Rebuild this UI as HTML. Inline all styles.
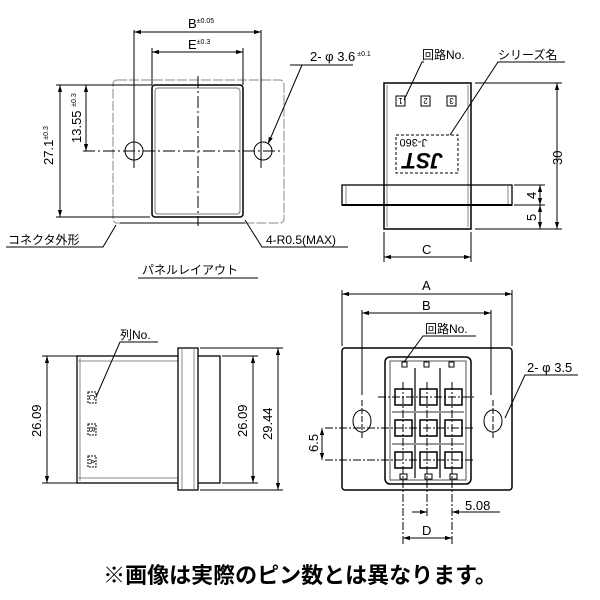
<!DOCTYPE html>
<html><head><meta charset="utf-8"><style>
body{margin:0;background:#fff}
svg{display:block;font-family:"Liberation Sans","Noto Sans CJK JP",sans-serif}
</style></head><body>
<svg width="600" height="600" viewBox="0 0 600 600" xmlns="http://www.w3.org/2000/svg">
<defs>
<marker id="a" viewBox="0 0 10 10" refX="10" refY="5" markerWidth="7" markerHeight="7" orient="auto-start-reverse"><path d="M0,2L10,5L0,8z" fill="#000"/></marker>
</defs>
<g fill="none" stroke="#000" stroke-width="1">
<rect x="113" y="80" width="171" height="143" rx="4" stroke="#888" stroke-dasharray="10,2"/>
<rect x="152" y="85" width="91" height="132" rx="3" stroke-width="1.5"/>
<rect x="155" y="88" width="85" height="126" rx="3" stroke="#777"/>
<line x1="83" y1="151" x2="280" y2="151" stroke-dasharray="12,3,2,3"/>
<line x1="198" y1="76" x2="198" y2="226" stroke-dasharray="12,3,2,3"/>
<circle cx="134" cy="151" r="9"/><circle cx="263" cy="151" r="9"/>
<line x1="134" y1="30" x2="134" y2="168"/><line x1="261" y1="30" x2="261" y2="168"/>
<line x1="134" y1="32" x2="261" y2="32" marker-start="url(#a)" marker-end="url(#a)"/>
<line x1="152" y1="48" x2="152" y2="85"/><line x1="243" y1="48" x2="243" y2="85"/>
<line x1="152" y1="52" x2="243" y2="52" marker-start="url(#a)" marker-end="url(#a)"/>
<line x1="56" y1="85" x2="152" y2="85"/><line x1="56" y1="217" x2="150" y2="217"/>
<line x1="60" y1="85" x2="60" y2="217" marker-start="url(#a)" marker-end="url(#a)"/>
<line x1="86" y1="85" x2="86" y2="151" marker-start="url(#a)" marker-end="url(#a)"/>
<line x1="120" y1="223" x2="245" y2="223"/>
<polyline points="6,247 103,247 116,225"/>
<polyline points="245,220 262,247 348,247"/>
<polyline points="290,65 353,65"/><line x1="302" y1="65" x2="268" y2="144" marker-end="url(#a)"/>
<line x1="138" y1="278" x2="258" y2="278"/>
<rect x="384" y="83" width="87" height="146" stroke-width="1.5"/>
<line x1="387" y1="85" x2="387" y2="227" stroke="#888"/><line x1="468" y1="85" x2="468" y2="227" stroke="#888"/>
<rect x="342" y="185" width="170" height="20" stroke-width="1.3"/>
<line x1="346" y1="186" x2="346" y2="204" stroke="#888"/><line x1="508" y1="186" x2="508" y2="204" stroke="#888"/>
<line x1="342" y1="205" x2="512" y2="205" stroke-width="2"/>
<rect x="396" y="96" width="9" height="10"/>
<rect x="421" y="96" width="9" height="10"/>
<rect x="447" y="96" width="9" height="10"/>
<rect x="396" y="135" width="62" height="38" stroke-dasharray="3,2"/>
<polyline points="424,62 422,62 404,100"/>
<polyline points="565,62 498,62 450,135"/>
<line x1="475" y1="83" x2="562" y2="83"/><line x1="475" y1="229" x2="562" y2="229"/>
<line x1="557" y1="83" x2="557" y2="229" marker-start="url(#a)" marker-end="url(#a)"/>
<line x1="514" y1="185" x2="545" y2="185"/><line x1="514" y1="205" x2="545" y2="205"/>
<line x1="540" y1="185" x2="540" y2="205" marker-start="url(#a)" marker-end="url(#a)"/>
<line x1="540" y1="205" x2="540" y2="229" marker-start="url(#a)" marker-end="url(#a)"/>
<line x1="384" y1="232" x2="384" y2="262"/><line x1="471" y1="232" x2="471" y2="262"/>
<line x1="384" y1="257" x2="471" y2="257" marker-start="url(#a)" marker-end="url(#a)"/>
<rect x="77" y="356" width="143" height="127" stroke-width="1.3"/>
<line x1="80" y1="358" x2="80" y2="481" stroke="#888"/>
<line x1="77" y1="361" x2="178" y2="361" stroke="#888"/><line x1="77" y1="478" x2="178" y2="478" stroke="#888"/>
<rect x="178" y="348" width="20" height="142" fill="#fff" stroke-width="1.3"/>
<line x1="182" y1="349" x2="182" y2="489" stroke="#888"/><line x1="194" y1="349" x2="194" y2="489" stroke="#888"/>
<rect x="88" y="392" width="8" height="11" stroke-dasharray="2,1"/>
<rect x="88" y="424" width="8" height="11" stroke-dasharray="2,1"/>
<rect x="88" y="456" width="8" height="11" stroke-dasharray="2,1"/>
<polyline points="158,342 120,342 96,397"/>
<line x1="42" y1="356" x2="77" y2="356"/><line x1="42" y1="483" x2="77" y2="483"/>
<line x1="47" y1="356" x2="47" y2="483" marker-start="url(#a)" marker-end="url(#a)"/>
<line x1="222" y1="356" x2="258" y2="356"/><line x1="222" y1="483" x2="258" y2="483"/>
<line x1="253" y1="356" x2="253" y2="483" marker-start="url(#a)" marker-end="url(#a)"/>
<line x1="200" y1="348" x2="283" y2="348"/><line x1="200" y1="490" x2="283" y2="490"/>
<line x1="278" y1="348" x2="278" y2="490" marker-start="url(#a)" marker-end="url(#a)"/>
<rect x="342" y="348" width="170" height="142" rx="3" stroke-width="1.5"/>
<rect x="385" y="357" width="86" height="127" rx="5" stroke-width="1.5"/>
<rect x="390" y="361" width="76" height="119" stroke="#555"/>
<line x1="415" y1="368" x2="415" y2="478" stroke="#666" stroke-width="2"/>
<line x1="440" y1="368" x2="440" y2="478" stroke="#666" stroke-width="2"/>
<line x1="392" y1="412" x2="464" y2="412" stroke="#999" stroke-width="2"/>
<line x1="392" y1="444" x2="464" y2="444" stroke="#999" stroke-width="2"/>
<g stroke-width="1.5">
<rect x="395" y="389" width="17" height="16"/><rect x="420" y="389" width="17" height="16"/><rect x="445" y="389" width="17" height="16"/>
<rect x="395" y="420" width="17" height="16"/><rect x="420" y="420" width="17" height="16"/><rect x="445" y="420" width="17" height="16"/>
<rect x="395" y="452" width="17" height="16"/><rect x="420" y="452" width="17" height="16"/><rect x="445" y="452" width="17" height="16"/>
</g>
<rect x="400" y="474" width="7" height="5"/><rect x="425" y="474" width="7" height="5"/><rect x="450" y="474" width="7" height="5"/>
<rect x="402" y="362" width="5" height="5"/><rect x="424" y="362" width="5" height="5"/><rect x="449" y="362" width="5" height="5"/>
<g stroke-dasharray="8,2,2,2">
<line x1="378" y1="397" x2="475" y2="397"/><line x1="325" y1="428" x2="475" y2="428"/><line x1="325" y1="460" x2="475" y2="460"/>
<line x1="403" y1="382" x2="403" y2="545"/><line x1="427" y1="382" x2="427" y2="518"/><line x1="452" y1="382" x2="452" y2="545"/>
</g>
<ellipse cx="362" cy="421" rx="9" ry="11"/><ellipse cx="493" cy="421" rx="9" ry="11"/>
<line x1="362" y1="400" x2="362" y2="440" stroke-dasharray="6,2"/><line x1="493" y1="400" x2="493" y2="440" stroke-dasharray="6,2"/>
<line x1="342" y1="290" x2="342" y2="346"/><line x1="512" y1="290" x2="512" y2="346"/>
<line x1="342" y1="294" x2="512" y2="294" marker-start="url(#a)" marker-end="url(#a)"/>
<line x1="362" y1="310" x2="362" y2="395"/><line x1="491" y1="310" x2="491" y2="395"/>
<line x1="362" y1="313" x2="491" y2="313" marker-start="url(#a)" marker-end="url(#a)"/>
<polyline points="476,336 423,336 404,362"/>
<polyline points="578,375 525,375 505,418"/>
<line x1="322" y1="428" x2="322" y2="460" marker-start="url(#a)" marker-end="url(#a)"/>
<line x1="412" y1="512" x2="427" y2="512" marker-end="url(#a)"/><line x1="500" y1="512" x2="452" y2="512" marker-end="url(#a)"/>
<line x1="403" y1="538" x2="452" y2="538" marker-start="url(#a)" marker-end="url(#a)"/>
</g>
<text x="407" y="167" font-size="22" font-weight="bold" font-style="italic" transform="rotate(180 425 160)">JST</text>
<text x="427" y="147" font-size="11" transform="rotate(180 427 143)">J-360</text>
<g font-size="13" fill="#000">
<text x="188" y="28">B<tspan font-size="7" dy="-5">±0.05</tspan></text>
<text x="188" y="49">E<tspan font-size="7" dy="-5">±0.3</tspan></text>
<text transform="translate(53 165) rotate(-90)">27.1<tspan font-size="7" dy="-5">±0.3</tspan></text>
<text transform="translate(81 143) rotate(-90)">13.55 <tspan font-size="7" dy="-5">±0.3</tspan></text>
<text x="8" y="244" font-size="12">コネクタ外形</text>
<text x="266" y="244" font-size="12">4-R0.5(MAX)</text>
<text x="142" y="274" font-size="12">パネルレイアウト</text>
<text x="310" y="61">2- φ 3.6<tspan font-size="7" dy="-5"> ±0.1</tspan></text>
<text x="422" y="59" font-size="12">回路No.</text>
<text x="498" y="59" font-size="12">シリーズ名</text>
<text transform="translate(562 165) rotate(-90)">30</text>
<text transform="translate(536 199) rotate(-90)">4</text>
<text transform="translate(536 221) rotate(-90)">5</text>
<text x="422" y="254">C</text>
<text x="120" y="339" font-size="12">列No.</text>
<text transform="translate(41 437) rotate(-90)">26.09</text>
<text transform="translate(247 437) rotate(-90)">26.09</text>
<text transform="translate(272 440) rotate(-90)">29.44</text>
<text x="422" y="290">A</text>
<text x="422" y="310">B</text>
<text x="425" y="333" font-size="12">回路No.</text>
<text x="527" y="372">2- φ 3.5</text>
<text transform="translate(318 452) rotate(-90)">6.5</text>
<text x="465" y="510">5.08</text>
<text x="422" y="535">D</text>
</g>
<g font-size="8" fill="#000" text-anchor="middle">
<text transform="translate(400.5 101) rotate(180)" dy="3">1</text>
<text transform="translate(425.5 101) rotate(180)" dy="3">2</text>
<text transform="translate(451.5 101) rotate(180)" dy="3">3</text>
<text transform="translate(92 397.5) rotate(90)" dy="3">C</text>
<text transform="translate(92 429.5) rotate(90)" dy="3">B</text>
<text transform="translate(92 461.5) rotate(90)" dy="3">A</text>
</g>
<text x="300" y="583" font-size="22" font-weight="bold" text-anchor="middle" fill="#000" font-family="'Liberation Sans','Noto Sans CJK JP',sans-serif">※画像は実際のピン数とは異なります。</text>
</svg>
</body></html>
